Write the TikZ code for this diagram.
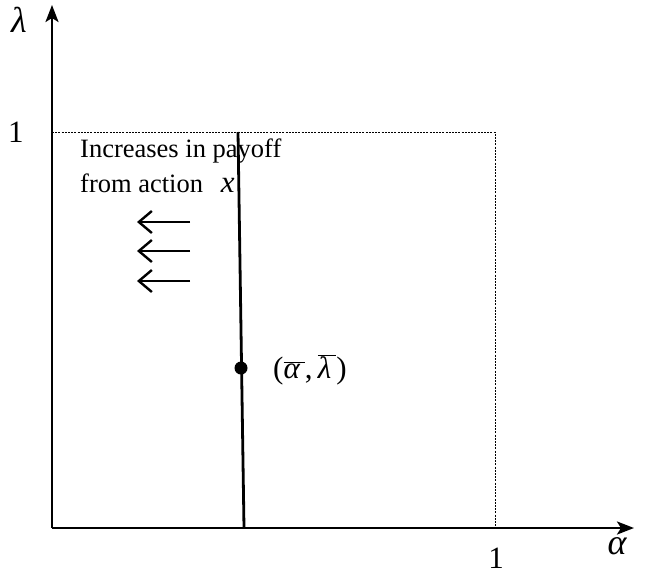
\documentclass[tikz,border=0pt]{standalone}
\usepackage{fontspec}
\setmainfont{Liberation Serif}
\usetikzlibrary{arrows.meta}
\newcommand{\barit}[1]{\(\overline{\hbox{\itshape #1\,}}\)}
\begin{document}
\begin{tikzpicture}[x=1pt,y=-1pt,
  axis/.style={line width=2.6pt,-{Stealth[length=17pt,width=13pt,inset=4pt]}},
  guide/.style={line width=0.7pt,dash pattern=on 2pt off 1.2pt},
  curve/.style={line width=2.8pt},
  leftarrow/.style={line width=2.4pt,-{Straight Barb[length=13pt,width=22pt,line width=2.4pt]}},
  lbl/.style={inner sep=0pt,font=\fontsize{31}{36}\selectfont},
  glbl/.style={inner sep=0pt,font=\fontsize{36}{40}\selectfont}]
\useasboundingbox (0,0) rectangle (650,574);
\coordinate (O) at (52,528);
\coordinate (ytop) at (52,5);
\coordinate (xend) at (634,528);
\coordinate (y1) at (52,132);
\coordinate (c11) at (495,132);
\coordinate (x1) at (495,528);
\coordinate (ctop) at (238,132);
\coordinate (cbot) at (244,528);
\draw[guide] (y1) -- (c11) -- (x1);
\draw[axis] (O) -- (ytop);
\draw[axis] (O) -- (xend);
\draw[curve] (ctop) -- (cbot);
\fill (241,368) circle (6.5pt) coordinate (pt);
\node[glbl] (lam) at (19,20) {\itshape λ};
\node[glbl] (alp) at (617,546) {\itshape α};
\node[lbl] (one) at (16,132) {1};
\node[lbl] (onex) at (496,558) {1};
\node[lbl,anchor=west] (ptl) at (273,370) {(\barit{α},\,\barit{λ})};
\node[inner sep=0pt,anchor=north west,align=left,font=\fontsize{26.5}{35}\selectfont] (txt) at (80,139) {Increases in payoff\\from action \ \,{\fontsize{31}{35}\selectfont\itshape x}};
\foreach \yy/\nm in {222/a,251/b,281/c}{
  \coordinate (\nm s) at (190,\yy);
  \coordinate (\nm e) at (137,\yy);
  \draw[leftarrow] (\nm s) -- (\nm e);
}
\end{tikzpicture}
\end{document}
